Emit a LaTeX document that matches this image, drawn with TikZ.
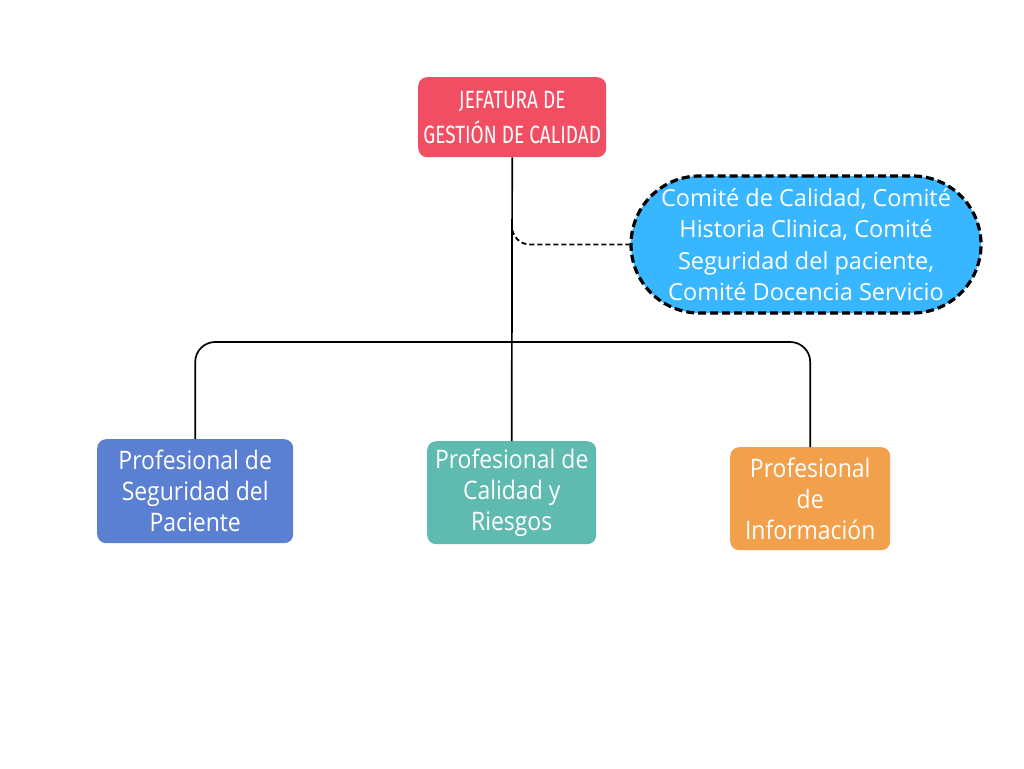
\documentclass[tikz,border=0pt]{standalone}
\usepackage{fontspec}
\setmainfont{Open Sans}
\newfontfamily\condfont[FakeStretch=0.9]{Open Sans}
\newfontfamily\headfont[FakeStretch=0.76]{Fira Sans}
\usetikzlibrary{shapes.misc}
\definecolor{cred}{HTML}{F24E63}
\definecolor{cblue}{HTML}{5B80D2}
\definecolor{cteal}{HTML}{5FBBB0}
\definecolor{corange}{HTML}{F2A04C}
\definecolor{csky}{HTML}{38B6FF}
\tikzset{
  x=1pt,y=-1pt,
  box/.style={rounded corners=9pt, text=white, align=center, inner sep=0pt, anchor=north west},
  link/.style={draw=black, line width=1.7pt},
  dlink/.style={draw=black, line width=1.8pt, dash pattern=on 5pt off 3pt},
}
\begin{document}
\begin{tikzpicture}
\useasboundingbox (0,0) rectangle (1024,768);
\fill[white] (0,0) rectangle (1024,768);
% nodes
\node[box, fill=cred, minimum width=188pt, minimum height=80pt, font=\headfont\fontsize{25}{35}\selectfont] (top) at (418,77) {JEFATURA DE\\GESTIÓN DE CALIDAD};
\node[rounded rectangle, draw=black, line width=3.2pt, dash pattern=on 8pt off 4pt, fill=csky, text=white, align=center,
      minimum width=350pt, minimum height=137pt, inner sep=0pt, font=\fontsize{23.5}{31.5}\selectfont] (com) at (806,244.5)
      {Comité de Calidad, Comité\\Historia Clinica, Comité\\Seguridad del paciente,\\Comité Docencia Servicio};
\node[box, fill=cblue, minimum width=196pt, minimum height=104pt, font=\condfont\fontsize{25.5}{31}\selectfont] (p1) at (97,439) {Profesional de\\Seguridad del\\Paciente};
\node[box, fill=cteal, minimum width=169pt, minimum height=103pt, font=\condfont\fontsize{25.5}{31}\selectfont] (p2) at (427,441) {Profesional de\\Calidad y\\Riesgos};
\node[box, fill=corange, minimum width=160pt, minimum height=103pt, font=\condfont\fontsize{25.5}{31}\selectfont] (p3) at (730,447) {Profesional\\de\\Información};
% connectors
\draw[link] (top.south) -- (p2.north);
\coordinate (bar) at (512,342);
\draw[link, rounded corners=20pt] (p1.north) |- (bar) -| (p3.north);
\coordinate (split) at (512,222);
\draw[dlink, rounded corners=18pt] (split) |- (com.west);
\end{tikzpicture}
\end{document}
